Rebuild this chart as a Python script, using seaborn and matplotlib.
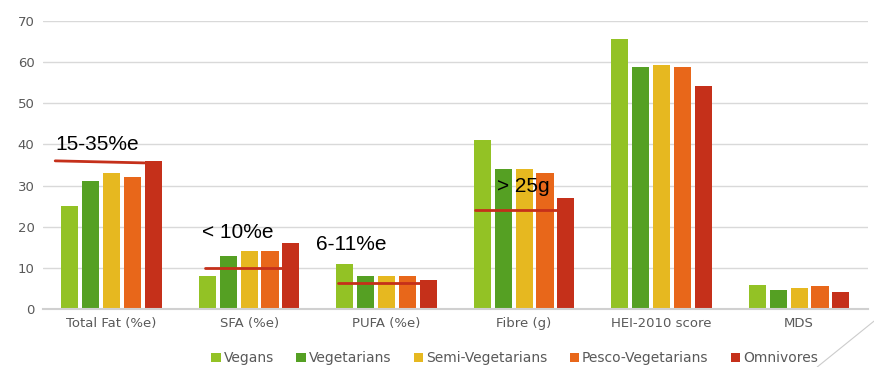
import matplotlib
matplotlib.use('Agg')
import matplotlib.pyplot as plt
import seaborn as sns
import pandas as pd
import numpy as np

categorias = ['Total Fat (%e)', 'SFA (%e)', 'PUFA (%e)', 'Fibre (g)', 'HEI-2010 score', 'MDS']
grupos = ['Vegans', 'Vegetarians', 'Semi-Vegetarians', 'Pesco-Vegetarians', 'Omnivores']
colores = ['#93C225', '#55A023', '#E6B820', '#E8671A', '#C5301A']

vegans = [25, 8, 11, 41, 65.5, 5.8]
vegetarians = [31, 13, 8, 34, 58.8, 4.6]
semi = [33, 14, 8, 34, 59.4, 5.2]
pesco = [32, 14, 8, 33, 58.8, 5.5]
omnivores = [36, 16, 7, 27, 54.3, 4.2]

# recomendaciones: (indice categoria, texto, y inicio, y fin)
recomendaciones = [(0, '15-35%e', 36, 35.5), (1, '< 10%e', 10, 10),
                   (2, '6-11%e', 6.2, 6.2), (3, '> 25g', 24.1, 24.1)]

df = pd.DataFrame({
    'categoria': categorias * 5,
    'grupo': np.repeat(grupos, len(categorias)),
    'valor': vegans + vegetarians + semi + pesco + omnivores,
})

sns.set_style('white')
plt.rcParams['font.family'] = ['DejaVu Sans']

fig = plt.figure(figsize=(8.74, 3.67), dpi=100)
ax = fig.add_axes([0.049, 0.158, 0.944, 0.785])

sns.barplot(data=df, x='categoria', y='valor', hue='grupo', order=categorias,
            hue_order=grupos, palette=colores, saturation=1, width=0.76, gap=0.18,
            edgecolor='none', ax=ax, legend=True)

ax.set_ylim(0, 70)
ax.set_yticks(range(0, 71, 10))
ax.set_xlim(-0.5, len(categorias) - 0.5)
ax.yaxis.grid(True, color='#D9D9D9', linewidth=1)
ax.set_axisbelow(True)
for s in ['top', 'right', 'left']:
    ax.spines[s].set_visible(False)
ax.spines['bottom'].set_color('#D0D0D0')
ax.spines['bottom'].set_linewidth(1.5)
ax.tick_params(axis='both', length=0, labelsize=9.5, colors='#595959', pad=6)
ax.set_xlabel('')
ax.set_ylabel('')

# lineas de recomendacion
offsets = {0: (-0.41, 0.24), 1: (-0.32, 0.25), 2: (-0.35, 0.25), 3: (-0.36, 0.25)}
text_pos = {0: (-0.41, 4.0), 1: (-0.34, 8.5), 2: (-0.51, 9.4), 3: (-0.2, 5.6)}
for i, txt, y0, y1 in recomendaciones:
    a, b = offsets[i]
    ax.plot([i + a, i + b], [y0, y1], color='#C5301A', linewidth=2, zorder=5)
    dx, dy = text_pos[i]
    ax.text(i + dx, y0 + dy, txt, fontsize=15, color='black',
            family=['Liberation Sans', 'DejaVu Sans'], va='center', zorder=6)

leg = ax.legend(loc='upper center', bbox_to_anchor=(0.572, -0.113), ncol=5,
                frameon=False, fontsize=10, handlelength=0.7, handleheight=0.7,
                handletextpad=0.2, columnspacing=1.6, borderpad=0.2)
for t in leg.get_texts():
    t.set_color('#595959')

fig.add_artist(plt.Line2D([0.935, 1.0], [0.0, 0.125], color='#CCCCCC',
                          linewidth=0.8, transform=fig.transFigure))

fig.savefig('out.png', dpi=100)
